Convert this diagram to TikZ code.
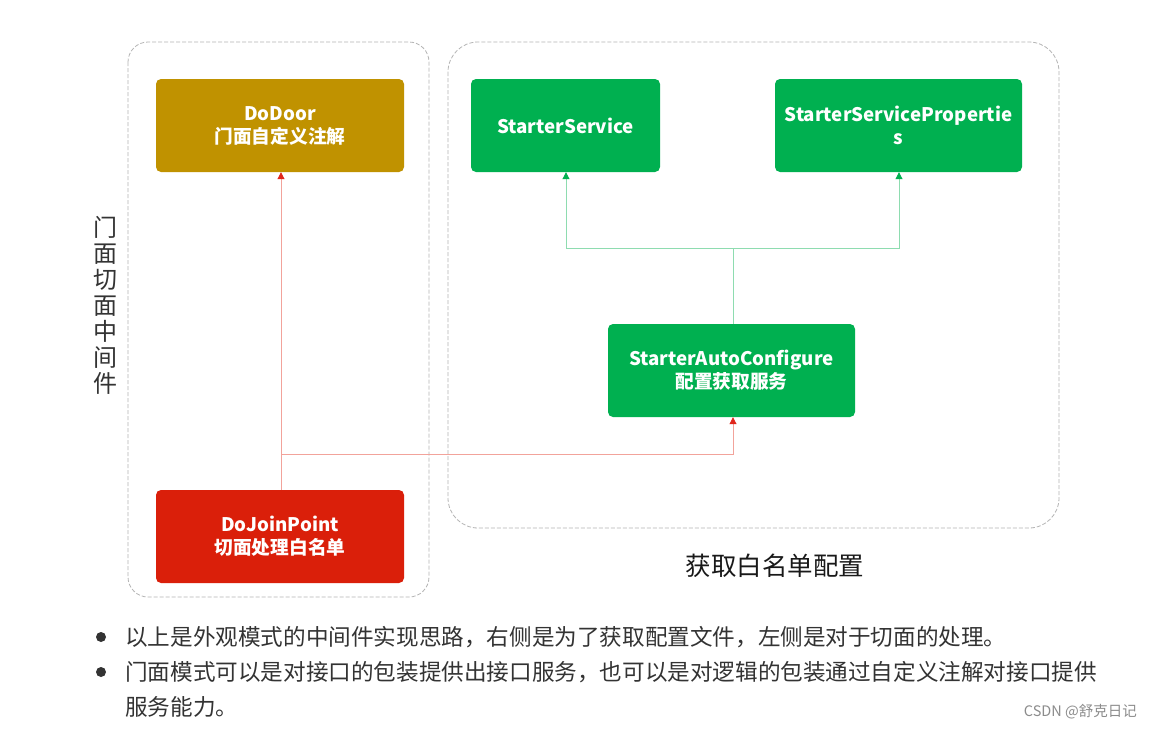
\documentclass[tikz,border=0pt]{standalone}
\usepackage{fontspec}
\setmainfont{Noto Sans CJK SC}
\usetikzlibrary{arrows.meta}
\definecolor{goldbox}{HTML}{C09200}
\definecolor{redbox}{HTML}{DA1F0A}
\definecolor{greenbox}{HTML}{00B050}
\definecolor{redln}{HTML}{F2A39B}
\definecolor{redtip}{HTML}{E0261B}
\definecolor{greenln}{HTML}{8EDCB0}
\definecolor{greentip}{HTML}{00B050}
\definecolor{dashgray}{HTML}{B5B5B5}
\definecolor{txtgray}{HTML}{333333}
\tikzset{
  boxstyle/.style={rounded corners=5pt, minimum height=93pt, text=white, font=\bfseries\fontsize{18.7}{23}\selectfont, align=center, inner sep=0pt},
  container/.style={draw=dashgray, line width=0.8pt, dash pattern=on 4pt off 2pt},
  redline/.style={draw=redln, line width=0.9pt},
  greenline/.style={draw=greenln, line width=0.9pt},
  redarrow/.style={redline, -{Triangle[width=7pt,length=7pt,color=redtip]}},
  greenarrow/.style={greenline, -{Triangle[width=7pt,length=7pt,color=greentip]}},
  bul/.style={anchor=west, text=txtgray, font=\fontsize{22.6}{26}\selectfont, inner sep=0pt},
}
\begin{document}
\begin{tikzpicture}[x=1pt,y=-1pt]
\useasboundingbox (0,0) rectangle (1152,731);
\fill[white] (0,0) rectangle (1152,731);
% containers
\draw[container, rounded corners=20pt] (128,42) rectangle (429,597);
\draw[container, rounded corners=30pt] (448,42) rectangle (1059,528);
% boxes
\node[boxstyle, fill=goldbox, minimum width=248pt] (door) at (280,125.5) {DoDoor\\门面自定义注解};
\node[boxstyle, fill=redbox, minimum width=248pt] (join) at (280,536.5) {DoJoinPoint\\切面处理白名单};
\node[boxstyle, fill=greenbox, minimum width=189pt] (svc) at (565.5,125.5) {StarterService};
\node[boxstyle, fill=greenbox, minimum width=247pt] (prop) at (898.5,125.5) {StarterServicePropertie\\s};
\node[boxstyle, fill=greenbox, minimum width=247pt] (auto) at (731.5,370.5) {StarterAutoConfigure\\配置获取服务};
% red connectors
\coordinate (rj) at (281,454);
\coordinate (gj) at (733,248);
\draw[redarrow] ([xshift=1pt]join.north) -- ([xshift=1pt]door.south);
\draw[redarrow] (rj) -| ([xshift=1.5pt]auto.south);
% green connectors
\draw[greenline] ([xshift=1.5pt]auto.north) -- (gj);
\draw[greenarrow] (gj) -| ([xshift=0.5pt]svc.south);
\draw[greenarrow] (gj) -| ([xshift=0.5pt]prop.south);
% labels
\node[text=txtgray, font=\fontsize{24}{26}\selectfont, align=center, inner sep=0pt] (vlabel) at (105,305) {门\\面\\切\\面\\中\\间\\件};
\node[text=black!90, font=\fontsize{25.5}{28}\selectfont, inner sep=0pt] (cap) at (775,566) {获取白名单配置};
% bullets
\fill[txtgray] (101,637) circle (5pt);
\fill[txtgray] (101,672) circle (5pt);
\node[bul] (b1) at (125,637) {以上是外观模式的中间件实现思路，右侧是为了获取配置文件，左侧是对于切面的处理。};
\node[bul] (b2) at (125,672) {门面模式可以是对接口的包装提供出接口服务，也可以是对逻辑的包装通过自定义注解对接口提供};
\node[bul] (b3) at (125,707) {服务能力。};
\node[anchor=east, text=black!45, font=\fontsize{14.5}{18}\selectfont, inner sep=0pt] (wm) at (1137,712) {CSDN @舒克日记};
\end{tikzpicture}
\end{document}
